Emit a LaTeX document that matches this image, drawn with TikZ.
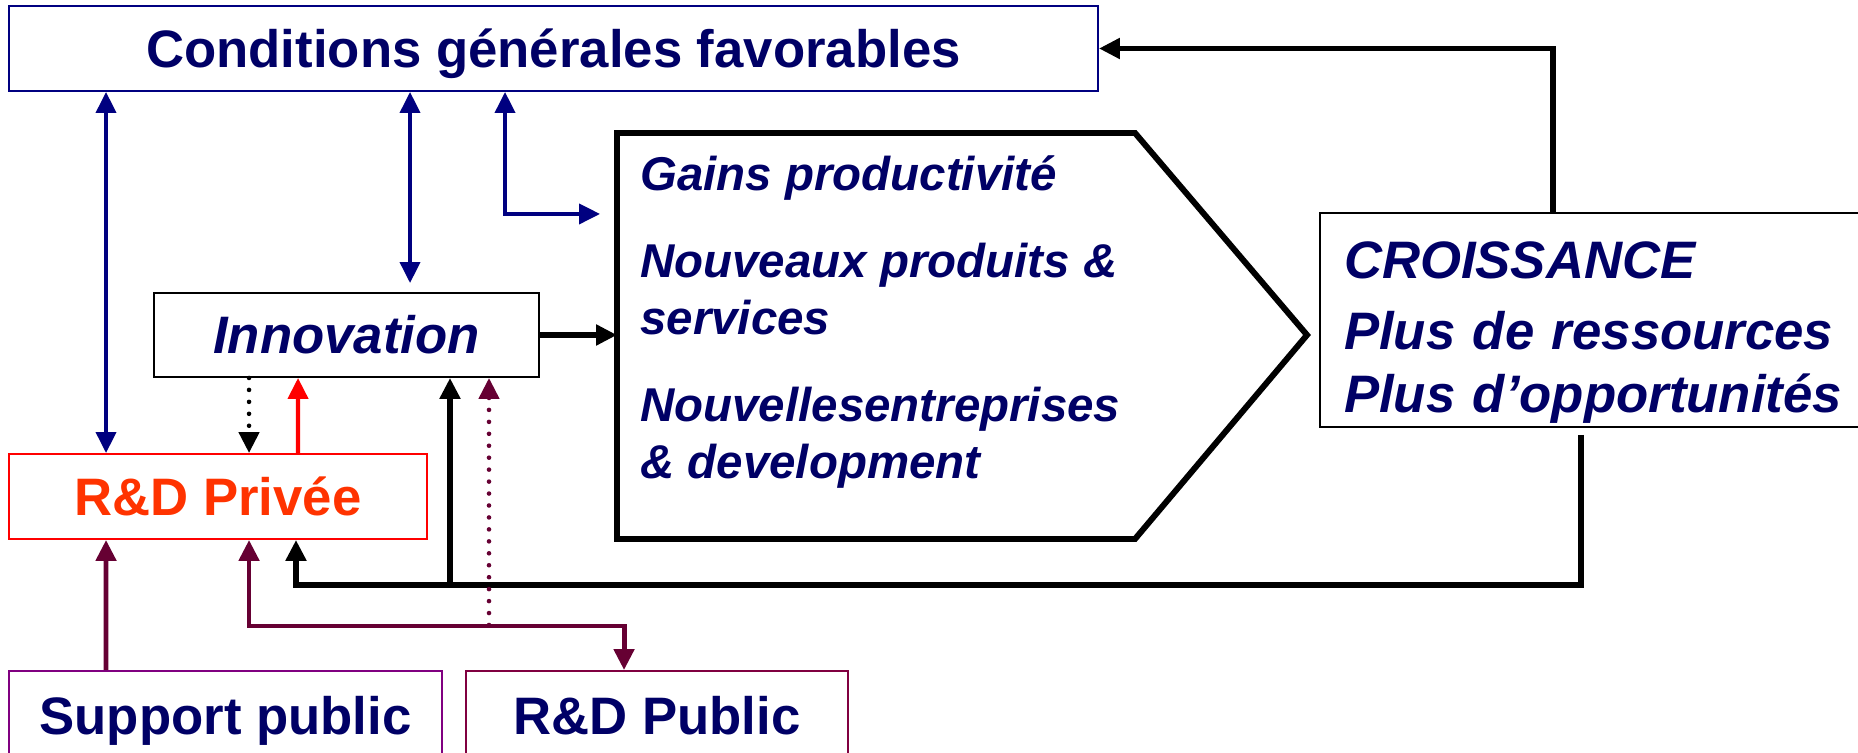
\documentclass[tikz,border=0pt]{standalone}
\usepackage{fontspec}
\setmainfont{Liberation Sans}
\usetikzlibrary{arrows.meta}

\definecolor{navytext}{RGB}{0,0,102}
\definecolor{navyline}{RGB}{0,0,128}
\definecolor{redtext}{RGB}{255,51,0}
\definecolor{maroon}{RGB}{102,0,51}
\definecolor{purpleline}{RGB}{128,0,128}
\definecolor{wine}{RGB}{128,0,64}

\newcommand{\largebold}{\fontsize{30}{36}\selectfont\bfseries}

\begin{document}
\begin{tikzpicture}[
    labelbox/.style={draw, line width=1.1pt, inner sep=0pt, text=navytext, font=\largebold,
                     text height=0.76cm, text depth=0pt},
    arrowend/.style={-{Triangle[length=0.42cm,width=0.4cm]}},
    bothtips/.style={{Triangle[length=0.42cm,width=0.4cm]}-{Triangle[length=0.42cm,width=0.4cm]}},
    navyarrow/.style={draw=navyline, line width=2.2pt},
    blackarrow/.style={draw=black, line width=3pt},
    maroonarrow/.style={draw=maroon, line width=2.8pt},
    dotline/.style={line width=2.6pt, line cap=round, dash pattern=on 0pt off 6.8pt}
  ]
    \useasboundingbox (0,0) rectangle (37.16,15.04);

    \node[labelbox, draw=navyline, minimum width=21.78cm, minimum height=1.7cm] (conditions) at (11.07,14.07) {Conditions générales favorables};
    \node[labelbox, font=\largebold\itshape, minimum width=7.7cm, minimum height=1.68cm] (innovation) at (6.93,8.34) {Innovation};
    \node[labelbox, draw=red, text=redtext, minimum width=8.36cm, minimum height=1.7cm] (privee) at (4.36,5.11) {R\&D Privée};
    \node[labelbox, draw=purpleline, minimum width=8.66cm, minimum height=1.76cm] (support) at (4.51,0.74) {Support public};
    \node[labelbox, draw=wine, minimum width=7.64cm, minimum height=1.76cm] (rdpublic) at (13.14,0.74) {R\&D Public};
    \node[draw, line width=1.1pt, text=navytext, font=\largebold\itshape, minimum height=4.28cm,
          text width=11cm, align=left, inner xsep=0.48cm, inner ysep=0pt] (croissance) at (32.38,8.64)
          {\rule{0pt}{1.24cm}CROISSANCE\\[4pt] Plus de ressources\\ Plus d’opportunités};

    % the big arrow shape with the results
    \coordinate (P1) at (12.34,12.38);
    \coordinate (P2) at (22.7,12.38);
    \coordinate (P3) at (26.14,8.34);
    \coordinate (P4) at (22.7,4.26);
    \coordinate (P5) at (12.34,4.26);
    \draw[line width=3.4pt] (P1) -- (P2) -- (P3) -- (P4) -- (P5) -- cycle;
    \node[anchor=west, align=left, inner sep=0pt, text=navytext,
          font=\fontsize{27}{32.4}\selectfont\bfseries\itshape] (gains) at (12.8,8.6)
          {Gains productivité\\[17pt] Nouveaux produits \&\\ services\\[17pt] Nouvellesentreprises\\ \& development};

    % feedback from growth
    \coordinate (fork) at (9.0,3.34);
    \draw[blackarrow, arrowend] ([xshift=4.68cm]croissance.north west) |- (conditions.east);
    \draw[blackarrow, arrowend] ([xshift=5.24cm,yshift=-0.14cm]croissance.south west) |- (fork) -| ([xshift=1.56cm]privee.south);
    \draw[blackarrow, arrowend] (fork) -- (fork |- innovation.south);
    \draw[blackarrow, arrowend] (innovation.east) -- (innovation.east -| P1);

    \draw[navyarrow, bothtips] ([xshift=1.96cm]conditions.south west) -- ([xshift=1.96cm]privee.north west);
    \draw[navyarrow, bothtips] ([xshift=8.04cm]conditions.south west) -- ([xshift=5.14cm,yshift=0.18cm]innovation.north west);
    \draw[navyarrow, bothtips] ([xshift=9.94cm]conditions.south west) -- ++(0,-2.44) -- ++(1.9,0);

    \draw[dotline, arrowend] ([xshift=1.92cm]innovation.south west) -- ([xshift=4.82cm]privee.north west);
    \draw[draw=red, line width=2.4pt, arrowend] ([xshift=5.8cm]privee.north west) -- ([xshift=2.9cm]innovation.south west);

    % public side
    \draw[maroonarrow, arrowend] ([xshift=1.96cm]support.north west) -- ([xshift=1.96cm]privee.south west);
    \draw[maroonarrow, bothtips] ([xshift=4.82cm]privee.south west) -- ++(0,-1.72) -| ([xshift=3.18cm]rdpublic.north west);
    \coordinate (pubdots) at (9.78,2.54);
    \draw[dotline, draw=maroon, arrowend] (pubdots) -- (pubdots |- innovation.south);
\end{tikzpicture}
\end{document}
